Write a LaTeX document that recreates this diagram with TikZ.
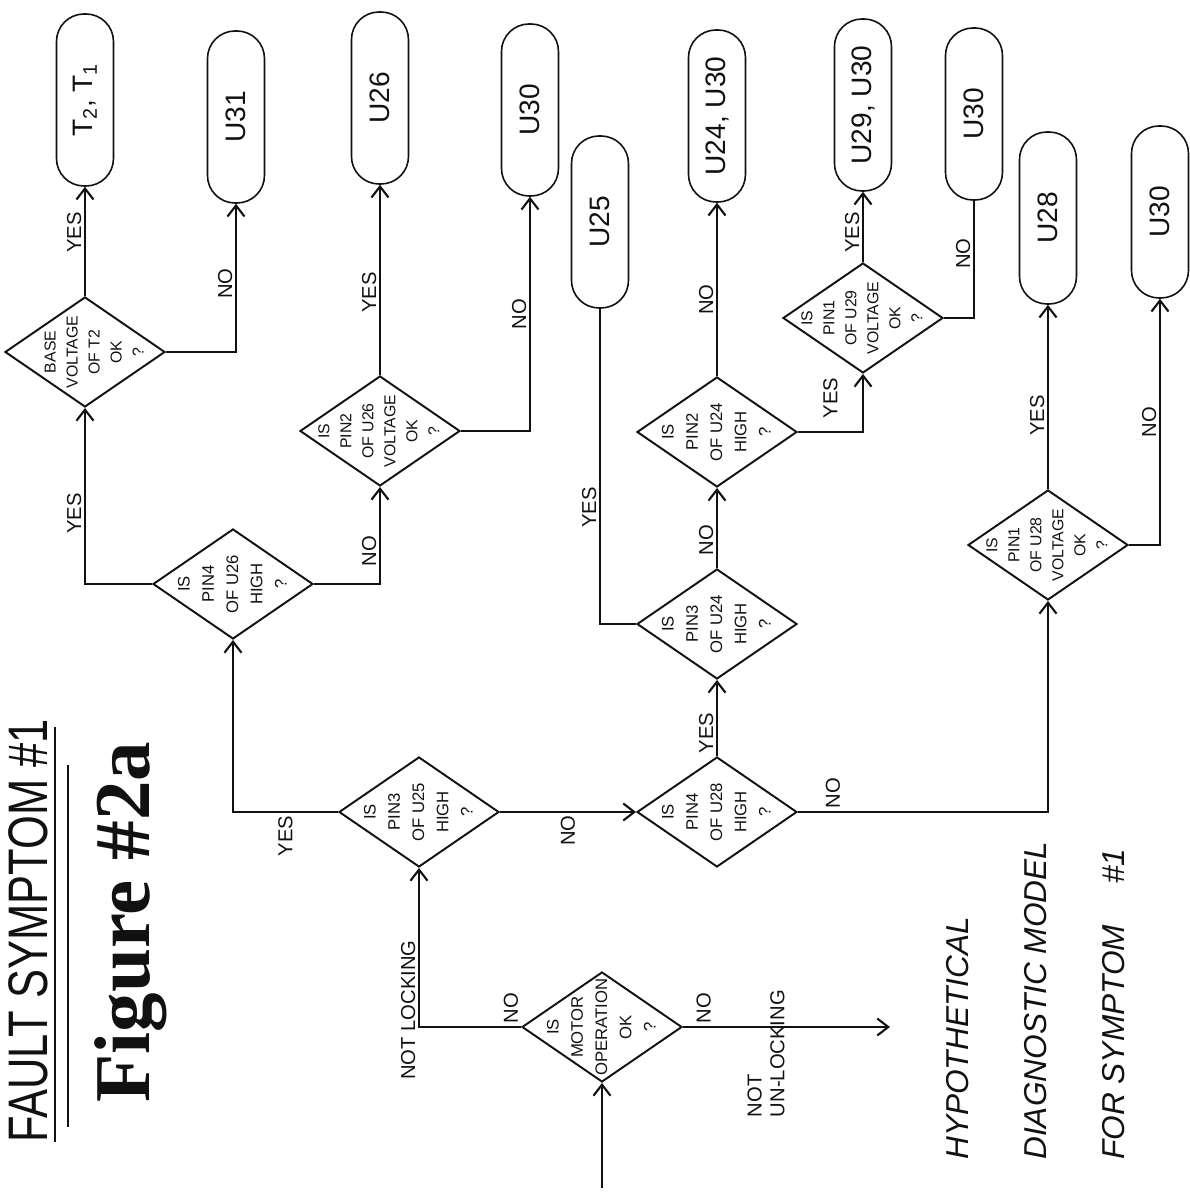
\documentclass[tikz,border=0pt]{standalone}
\usepackage{fontspec}
\setmainfont{Liberation Sans}
\newfontfamily\titlefont[FakeStretch=0.78]{Liberation Sans}
\newfontfamily\figfont{Liberation Serif}
\usetikzlibrary{arrows.meta,calc,shapes.geometric}
\definecolor{InkBlack}{RGB}{17,17,17}
\newcommand{\askline}[2][0.25em]{\makebox[0pt]{\smash{\raisebox{-#1}{\begin{tabular}{@{}c@{}}#2\end{tabular}}}}}
\tikzset{
  flow/.style={-{Straight Barb[length=2.2mm,width=3.4mm]},line width=1.2pt,draw=InkBlack},
  plainflow/.style={line width=1.2pt,draw=InkBlack},
  askbox/.style={diamond,draw=InkBlack,line width=1.1pt,inner sep=0pt,
    minimum width=2.2cm,minimum height=3.2cm,text=InkBlack,font=\fontsize{9.5}{13.8}\selectfont},
  longask/.style={askbox,font=\fontsize{9}{12.5}\selectfont},
  partbox/.style={draw=InkBlack,line width=0.9pt,rounded corners=0.55cm,
    minimum width=3.44cm,minimum height=1.14cm,inner sep=0pt,text=InkBlack,
    font=\fontsize{16}{18}\selectfont},
  branchlbl/.style={font=\fontsize{11.5}{13}\selectfont,inner sep=1.5pt,text=InkBlack}
}

\begin{document}
\begin{tikzpicture}[x=0.2mm,y=0.2mm,rotate=90,transform shape]
  \useasboundingbox (0,0) rectangle (1192,1190);
  \coordinate (entry) at (4,588);
  \coordinate (unlockend) at (165,300);

  \node[askbox] (motor) at (165,588) {\askline{IS\\MOTOR\\OPERATION\\OK\\?}};
  \node[askbox] (pin3u25) at (380,771) {\askline{IS\\PIN3\\OF U25\\HIGH\\?}};
  \node[askbox] (pin4u28) at (380,473) {\askline{IS\\PIN4\\OF U28\\HIGH\\?}};
  \node[askbox] (pin3u24) at (568,473) {\askline{IS\\PIN3\\OF U24\\HIGH\\?}};
  \node[askbox] (pin2u24) at (760,473) {\askline{IS\\PIN2\\OF U24\\HIGH\\?}};
  \node[longask] (pin1u29) at (874,327) {\askline{IS\\PIN1\\OF U29\\VOLTAGE\\OK\\?}};
  \node[longask] (pin1u28) at (647,142) {\askline{IS\\PIN1\\OF U28\\VOLTAGE\\OK\\?}};
  \node[askbox] (pin4u26) at (608,957) {\askline{IS\\PIN4\\OF U26\\HIGH\\?}};
  \node[longask] (baset2) at (840,1105) {\askline[0.9em]{BASE\\VOLTAGE\\OF T2\\OK\\?}};
  \node[longask] (pin2u26) at (761,810) {\askline{IS\\PIN2\\OF U26\\VOLTAGE\\OK\\?}};

  \node[partbox] (endT) at (1092,1105) {T\textsubscript{2}, T\textsubscript{1}};
  \node[partbox] (endU31) at (1075,954) {U31};
  \node[partbox] (endU26) at (1094,810) {U26};
  \node[partbox] (endU30a) at (1082,660) {U30};
  \node[partbox] (endU25) at (970,590) {U25};
  \node[partbox] (endU24) at (1076,473) {U24, U30};
  \node[partbox] (endU29) at (1087,327) {U29, U30};
  \node[partbox] (endU30b) at (1078,216) {U30};
  \node[partbox] (endU28) at (974,142) {U28};
  \node[partbox] (endU30c) at (980,30) {U30};

  \draw[flow] (entry) -- (motor.west);
  \draw[flow] (motor.north) |- node[branchlbl,pos=.05,right] (motorNo) {NO}
    node[branchlbl,pos=.553,above] (notLock) {NOT LOCKING} (pin3u25.west);
  \draw[flow] (motor.south) -- node[branchlbl,pos=.1,right] (motorNoR) {NO} (unlockend);
  \node[branchlbl,align=left,anchor=west] (unlockNote) at (72,424) {NOT\\UN-LOCKING};

  \draw[flow] (pin3u25.north) |- node[branchlbl,pos=.25,left] (u25Yes) {YES} (pin4u26.west);
  \draw[flow] (pin3u25.south) -- node[branchlbl,midway,left] (u25No) {NO} (pin4u28.north);
  \draw[flow] (pin4u28.east) -- node[branchlbl,pos=.3,above] (u28Yes) {YES} (pin3u24.west);
  \draw[flow] (pin4u28.south) |- node[branchlbl,pos=.07,right] (u28No) {NO} (pin1u28.west);
  \draw[flow] (pin1u28.east) -- node[branchlbl,pos=.4,above] (v28Yes) {YES} (endU28.west);
  \draw[flow] (pin1u28.south) |- node[branchlbl,pos=.75,above] (v28No) {NO} (endU30c.west);
  \draw[plainflow] (pin3u24.north) |- node[branchlbl,pos=.685,above] (p3Yes) {YES} (endU25.west);
  \draw[flow] (pin3u24.east) -- node[branchlbl,pos=.35,above] (p3No) {NO} (pin2u24.west);
  \draw[flow] (pin2u24.east) -- node[branchlbl,pos=.44,above] (p2No) {NO} (endU24.west);
  \draw[flow] (pin2u24.south) |- node[branchlbl,pos=.25,right=2mm] (p2Yes) {YES} (pin1u29.west);
  \draw[flow] (pin1u29.east) -- node[branchlbl,pos=.42,above] (v29Yes) {YES} (endU29.west);
  \draw[plainflow] (pin1u29.south) |- node[branchlbl,pos=.775,above] (v29No) {NO} (endU30b.west);
  \draw[flow] (pin4u26.north) |- node[branchlbl,pos=.7,above] (u26Yes) {YES} (baset2.west);
  \draw[flow] (pin4u26.south) |- node[branchlbl,pos=.67,above] (u26No) {NO} (pin2u26.west);
  \draw[flow] (baset2.east) -- node[branchlbl,pos=.58,above] (t2Yes) {YES} (endT.west);
  \draw[flow] (baset2.south) |- node[branchlbl,pos=.73,above] (t2No) {NO} (endU31.west);
  \draw[flow] (pin2u26.east) -- node[branchlbl,pos=.435,above] (v26Yes) {YES} (endU26.west);
  \draw[flow] (pin2u26.south) |- node[branchlbl,pos=.75,above] (v26No) {NO} (endU30a.west);

  \node[anchor=base west,inner sep=0pt,text=InkBlack,
    font=\titlefont\fontsize{31.7}{36}\selectfont] (title) at (49,1142) {FAULT SYMPTOM \#1};
  \draw[line width=1pt,draw=InkBlack] ($(title.base west)+(1,-7)$) -- ($(title.base east)+(-8,-7)$);
  \draw[line width=0.7pt,draw=InkBlack] ($(title.base west)+(16,-20)$) -- ($(title.base east)+(-46,-20)$);
  \node[anchor=base west,inner sep=0pt,text=InkBlack,
    font=\figfont\bfseries\fontsize{45}{50}\selectfont] (figTag) at (89,1040) {Figure \#2a};
  \node[anchor=north west,inner sep=0pt,align=left,text=InkBlack,
    font=\itshape\fontsize{18}{44.4}\selectfont] (modelNote) at (32,244)
    {HYPOTHETICAL\\DIAGNOSTIC MODEL\\FOR SYMPTOM\hspace{1.3em}\#1};
\end{tikzpicture}
\end{document}
